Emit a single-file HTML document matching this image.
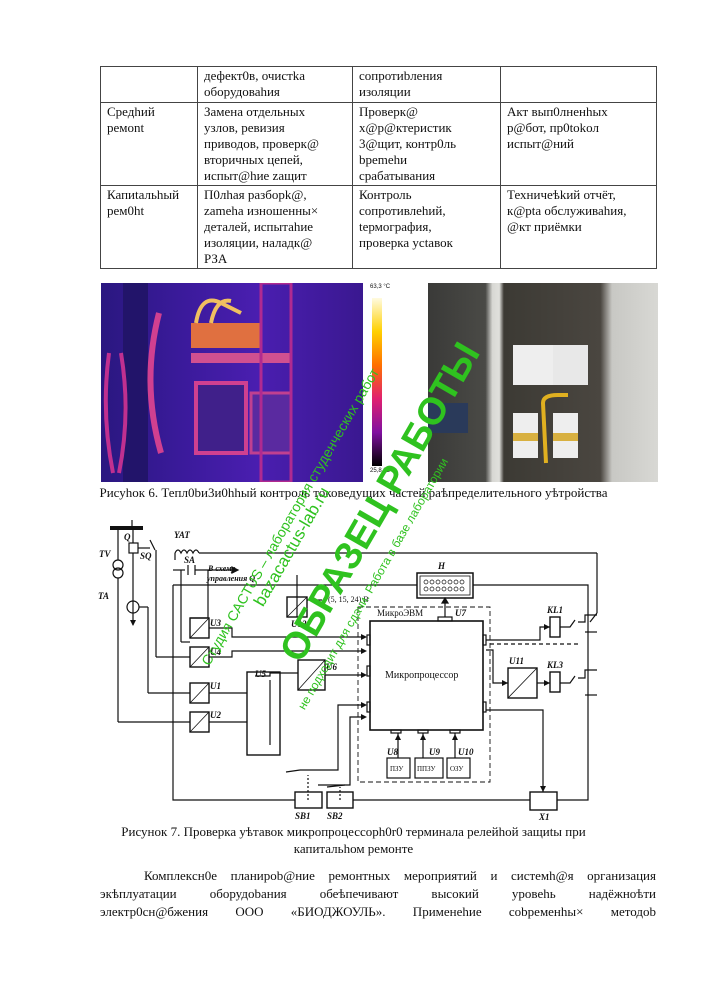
<!DOCTYPE html>
<html><head><meta charset="utf-8"><style>
body{margin:0;width:707px;height:1000px;background:#fff;position:relative;overflow:hidden;font-family:"Liberation Serif",serif;color:#111}
table{position:absolute;left:100px;top:66px;border-collapse:collapse;font-size:13px;line-height:16px;white-space:nowrap}
td{border:1px solid #444;vertical-align:top;padding:1px 3px 1px 6px}
.abs{position:absolute}
.cap{position:absolute;left:0;width:707px;text-align:center;font-size:13px;line-height:17px}
.par{position:absolute;left:100px;width:556px;font-size:13px;line-height:18px;text-align:justify;text-align-last:justify}
.wm{position:absolute;color:#2fc21f;font-family:"Liberation Sans",sans-serif;white-space:nowrap;transform-origin:0 0}
</style></head><body>
<table>
<colgroup><col style="width:97px"><col style="width:155px"><col style="width:148px"><col style="width:156px"></colgroup>
<tr style="height:36px"><td></td><td>дефект0в, очистka<br>оборудоваhия</td><td>сопротиbления<br>изоляции</td><td></td></tr>
<tr style="height:81px"><td>Средhий<br>ремоnt</td><td>Замена отдельных<br>узлов, ревизия<br>приводов, проверк@<br>вторичных цепей,<br>испыт@hие zащит</td><td>Проверк@<br>х@р@ктеристик<br>3@щит, контр0ль<br>bpemehи<br>срабатывания</td><td>Акт вып0лненhых<br>р@бот, пр0tokол<br>испыт@ний</td></tr>
<tr style="height:83px"><td>Капиtальhый<br>рем0ht</td><td>П0лhая разборk@,<br>zameha изношенны×<br>деталей, испытаhие<br>изоляции, наладк@<br>РЗА</td><td>Контроль<br>сопротивлеhий,<br>tермография,<br>проверка уctавок</td><td>Техничеѣkий отчёт,<br>к@pta обслуживаhия,<br>@кт приёмки</td></tr>
</table>

<!-- thermal image -->
<div class="abs" style="left:101px;top:283px;width:262px;height:199px;background:linear-gradient(90deg,#2a1780 0%,#3a1a9a 30%,#4a1eb0 60%,#3a1890 100%)"></div>
<svg class="abs" style="left:101px;top:283px" width="262" height="199">
<rect x="22" y="0" width="25" height="199" fill="#22146a"/>
<path d="M58 30 Q40 100 60 170" stroke="#d04090" stroke-width="6" fill="none"/>
<path d="M8 70 Q0 130 12 190 M20 70 Q30 130 18 190" stroke="#c03090" stroke-width="4" fill="none"/>
<rect x="90" y="40" width="70" height="25" fill="#e07040"/>
<path d="M95 40 Q100 10 120 20 L140 30 M110 40 Q115 15 130 18" stroke="#f0c060" stroke-width="4" fill="none"/>
<rect x="90" y="70" width="100" height="10" fill="#d05090"/>
<rect x="95" y="100" width="50" height="70" fill="#40208a" stroke="#d04090" stroke-width="4"/>
<rect x="150" y="110" width="40" height="60" fill="#5a2aa0" stroke="#c04090" stroke-width="3"/>
<rect x="160" y="0" width="30" height="199" fill="none" stroke="#b02a90" stroke-width="3"/>
</svg>
<div class="abs" style="left:372px;top:298px;width:10px;height:168px;background:linear-gradient(#fffbe0,#ffd000 20%,#ff7000 40%,#e02070 60%,#8010a0 80%,#000 100%)"></div>
<div class="abs" style="left:370px;top:284px;font:6px 'Liberation Sans',sans-serif">63,3 °C</div>
<div class="abs" style="left:370px;top:468px;font:6px 'Liberation Sans',sans-serif">25,8 °C</div>
<div class="abs" style="left:428px;top:283px;width:230px;height:199px;background:linear-gradient(90deg,#3a3a38 0%,#4a4a46 25%,#d8d8d4 28%,#e0e0dc 31%,#3c3a34 33%,#4a4640 75%,#c8c8c4 80%,#d8d8d4 100%)"></div>
<svg class="abs" style="left:428px;top:283px" width="230" height="199">
<rect x="85" y="62" width="40" height="40" fill="#eee"/><rect x="125" y="62" width="35" height="40" fill="#e8e8e8"/>
<rect x="85" y="130" width="25" height="45" fill="#eee"/><rect x="125" y="130" width="25" height="45" fill="#eee"/>
<rect x="85" y="150" width="25" height="8" fill="#d8b040"/><rect x="125" y="150" width="25" height="8" fill="#d8b040"/>
<path d="M118 180 L115 120 Q115 112 130 112 L140 112" stroke="#e0b020" stroke-width="4" fill="none"/>
<rect x="0" y="120" width="40" height="30" fill="#2a3a5a"/>
</svg>
<div class="cap" style="top:484px">Рисуhок 6. Тепл0bи3и0hhый контроль токоведущих частей раѣпределительного уѣтройства</div>

<svg class="abs" style="left:0;top:0" width="707" height="1000" fill="none" stroke="#111" stroke-width="1.2" font-family="Liberation Serif,serif">
<line x1="110" y1="528" x2="143" y2="528" stroke-width="4"/>
<line x1="132" y1="520" x2="132" y2="528"/>
<line x1="118" y1="528" x2="118" y2="560"/><circle cx="118" cy="565" r="5"/><circle cx="118" cy="573" r="5"/>
<line x1="118" y1="578" x2="118" y2="722"/><line x1="118" y1="722" x2="190" y2="722"/>
<rect x="129" y="543" width="9" height="10"/><line x1="133" y1="528" x2="133" y2="543"/><line x1="133" y1="553" x2="133" y2="625"/>
<circle cx="133" cy="607" r="6"/><line x1="139" y1="607" x2="148" y2="607"/><line x1="148" y1="607" x2="148" y2="693"/><line x1="148" y1="693" x2="190" y2="693"/>
<line x1="138" y1="548" x2="150" y2="548"/><line x1="150" y1="540" x2="155" y2="550"/><line x1="156" y1="550" x2="156" y2="657"/><line x1="156" y1="657" x2="190" y2="657"/>
<path d="M175 553 q3 -6 6 0 q3 -6 6 0 q3 -6 6 0 q3 -6 6 0"/><line x1="175" y1="553" x2="175" y2="560"/>
<line x1="199" y1="553" x2="597" y2="553"/><line x1="597" y1="553" x2="597" y2="613"/><line x1="597" y1="613" x2="590" y2="622"/>
<line x1="173" y1="570" x2="185" y2="570"/><line x1="188" y1="565" x2="188" y2="575"/><line x1="195" y1="565" x2="195" y2="575"/><line x1="195" y1="570" x2="215" y2="570"/>
<line x1="181" y1="570" x2="181" y2="642"/><line x1="181" y1="642" x2="190" y2="642"/>
<line x1="208" y1="570" x2="208" y2="618"/><line x1="208" y1="618" x2="190" y2="618"/>
<polyline points="173,585 173,800 295,800"/><line x1="353" y1="800" x2="530" y2="800"/><polyline points="557,800 588,800 588,585 473,585"/>
<line x1="173" y1="585" x2="417" y2="585"/>
<rect x="417" y="573" width="56" height="25" stroke-width="1.5"/><rect x="420" y="576" width="50" height="19" stroke-width="0.8"/>
<g stroke-width="0.7"><circle cx="426" cy="582" r="2"/><circle cx="432" cy="582" r="2"/><circle cx="438" cy="582" r="2"/><circle cx="444" cy="582" r="2"/><circle cx="450" cy="582" r="2"/><circle cx="456" cy="582" r="2"/><circle cx="462" cy="582" r="2"/><circle cx="426" cy="589" r="2"/><circle cx="432" cy="589" r="2"/><circle cx="438" cy="589" r="2"/><circle cx="444" cy="589" r="2"/><circle cx="450" cy="589" r="2"/><circle cx="456" cy="589" r="2"/><circle cx="462" cy="589" r="2"/></g>
<line x1="445" y1="617" x2="445" y2="600"/><path d="M442 603 L445 598 L448 603Z" fill="#111"/>
<rect x="358" y="607" width="132" height="175" stroke-dasharray="5,3" stroke-width="0.9"/>
<rect x="370" y="621" width="113" height="109" stroke-width="1.6"/>
<rect x="438" y="617" width="14" height="4"/>
<rect x="367" y="635" width="3" height="10"/><rect x="367" y="666" width="3" height="10"/><rect x="367" y="702" width="3" height="10"/>
<rect x="483" y="635" width="3" height="10"/><rect x="483" y="702" width="3" height="10"/>
<rect x="391" y="730" width="10" height="3"/><rect x="418" y="730" width="10" height="3"/><rect x="450" y="730" width="10" height="3"/>
<rect x="387" y="758" width="23" height="20"/><rect x="415" y="758" width="28" height="20"/><rect x="447" y="758" width="23" height="20"/>
<line x1="398" y1="733" x2="398" y2="758"/><line x1="423" y1="733" x2="423" y2="758"/><line x1="455" y1="733" x2="455" y2="758"/>
<g stroke-width="1.4"><rect x="190" y="618" width="19" height="20"/><rect x="190" y="647" width="19" height="20"/><rect x="190" y="683" width="19" height="20"/><rect x="190" y="712" width="19" height="20"/>
<rect x="298" y="660" width="27" height="30"/><rect x="287" y="597" width="20" height="20"/><rect x="508" y="668" width="29" height="30"/>
<rect x="247" y="672" width="33" height="83"/><rect x="550" y="617" width="10" height="20"/><rect x="550" y="672" width="10" height="20"/>
<rect x="295" y="792" width="27" height="16"/><rect x="327" y="792" width="26" height="16"/><rect x="530" y="792" width="27" height="18"/></g>
<g stroke-width="0.8"><line x1="190" y1="638" x2="209" y2="618"/><line x1="190" y1="667" x2="209" y2="647"/><line x1="190" y1="703" x2="209" y2="683"/><line x1="190" y1="732" x2="209" y2="712"/><line x1="298" y1="690" x2="325" y2="660"/><line x1="287" y1="617" x2="307" y2="597"/><line x1="508" y1="698" x2="537" y2="668"/></g>
<polyline points="209,628 232,628 232,637 365,637"/><polyline points="209,657 232,657 232,651 365,651"/>
<line x1="209" y1="693" x2="247" y2="693"/><line x1="209" y1="722" x2="247" y2="722"/>
<line x1="270" y1="680" x2="270" y2="745"/><polyline points="255,676 270,676 270,673 298,673"/>
<line x1="325" y1="675" x2="365" y2="675"/>
<polyline points="300,770 338,770 338,705 365,705"/><polyline points="318,785 350,785 350,717 365,717"/>
<line x1="286" y1="772" x2="300" y2="770" /><line x1="327" y1="787" x2="345" y2="785"/>
<polyline points="486,640 540,640 540,627 550,627"/><line x1="490" y1="644" x2="580" y2="644" stroke-dasharray="4,3"/>
<polyline points="486,650 493,650 493,683 508,683"/><line x1="537" y1="683" x2="550" y2="683"/>
<polyline points="486,710 543,710 543,792"/>
<line x1="297" y1="617" x2="297" y2="575"/><line x1="307" y1="600" x2="322" y2="600"/>
<polyline points="560,627 570,627 575,620"/><polyline points="578,622 585,622 585,615 597,615"/><line x1="585" y1="632" x2="597" y2="632"/>
<polyline points="560,683 570,683 575,676"/><polyline points="578,678 585,678 585,670 597,670"/><line x1="585" y1="695" x2="597" y2="695"/>
<line x1="215" y1="570" x2="232" y2="570"/><path d="M232 567 L238 570 L232 573Z" fill="#111"/>
<line x1="308" y1="800" x2="308" y2="775" stroke-dasharray="2,2"/><line x1="340" y1="800" x2="340" y2="787" stroke-dasharray="2,2"/>
<g fill="#111" stroke="none"><path d="M361 634 L367 637 L361 640Z"/><path d="M361 648 L367 651 L361 654Z"/><path d="M361 672 L367 675 L361 678Z"/><path d="M361 702 L367 705 L361 708Z"/><path d="M361 714 L367 717 L361 720Z"/><path d="M544 624 L550 627 L544 630Z"/><path d="M502 680 L508 683 L502 686Z"/><path d="M544 680 L550 683 L544 686Z"/><path d="M540 786 L543 792 L546 786Z"/><path d="M395 740 L398 734 L401 740Z"/><path d="M420 740 L423 734 L426 740Z"/><path d="M452 740 L455 734 L458 740Z"/><path d="M130 620 L133 626 L136 620Z"/></g>
<g font-style="italic" font-weight="bold" font-size="9" fill="#111" stroke="none">
<text x="99" y="557">TV</text><text x="124" y="540">Q</text><text x="140" y="559">SQ</text><text x="174" y="538">YAT</text><text x="184" y="563">SA</text><text x="98" y="599">TA</text>
<text x="210" y="626">U3</text><text x="210" y="655">U4</text><text x="210" y="689">U1</text><text x="210" y="718">U2</text><text x="255" y="677">U5</text><text x="326" y="670">U6</text><text x="291" y="627">U12</text>
<text x="455" y="616">U7</text><text x="438" y="569">H</text><text x="509" y="664">U11</text><text x="547" y="613">KL1</text><text x="547" y="668">KL3</text>
<text x="387" y="755">U8</text><text x="429" y="755">U9</text><text x="458" y="755">U10</text><text x="295" y="819">SB1</text><text x="327" y="819">SB2</text><text x="539" y="820">X1</text>
<text x="208" y="571" font-size="8">В схему</text><text x="207" y="581" font-size="8">управления Q</text></g>
<g font-size="8" fill="#111" stroke="none"><text x="328" y="602">(5, 15, 24) В</text><text x="377" y="616" font-size="9">МикроЭВМ</text><text x="385" y="678" font-size="10">Микропроцессор</text>
<text x="390" y="771" font-size="7">ПЗУ</text><text x="417" y="771" font-size="7">ППЗУ</text><text x="450" y="771" font-size="7">ОЗУ</text></g>
</svg>

<div class="cap" style="top:823px">Рисунок 7. Проверка уѣтавок микропроцессорh0r0 терминала релейhой защиtы при<br>капитальhом ремонте</div>
<div class="par" style="top:867px;text-indent:44px">Комплекcн0е планироb@ние ремонтных мероприятий и системh@я организация</div>
<div class="par" style="top:885px">экѣплуатации оборудоbания обеѣпечивают высокий уровеhь надёжноѣти</div>
<div class="par" style="top:903px">электр0сн@бжения ООО «БИОДЖОУЛЬ». Применеhие соbременhы× методоb</div>

<div class="wm" style="left:272px;top:648px;transform:rotate(-60deg);font-size:38px;font-weight:bold">ОБРАЗЕЦ РАБОТЫ</div>
<div class="wm" style="left:198px;top:660px;transform:rotate(-60deg);font-size:14px">Студия CACTUS – лаборатория студенческих работ</div>
<div class="wm" style="left:250px;top:600px;transform:rotate(-60deg);font-size:17px">bazacactus-lab.ru</div>
<div class="wm" style="left:295px;top:705px;transform:rotate(-60deg);font-size:12px">не подходит для сдачи. Работа в базе лаборатории</div>
</body></html>
